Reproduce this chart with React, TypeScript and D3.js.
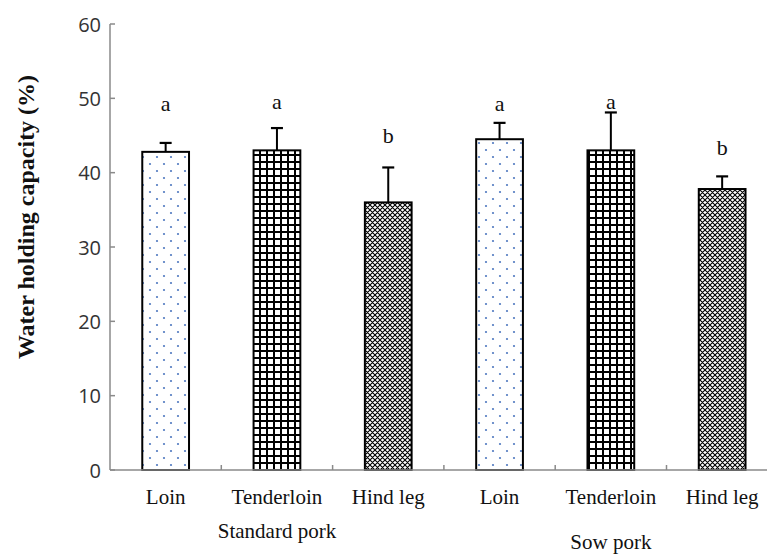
import * as d3 from "d3";

const categories = ["Loin", "Tenderloin", "Hind leg", "Loin", "Tenderloin", "Hind leg"];
const cuts = ["loin", "tender", "hind", "loin", "tender", "hind"];
const means = [42.8, 43.0, 36.0, 44.5, 43.0, 37.8];
const errors = [1.2, 3.0, 4.7, 2.2, 5.1, 1.7];
const letters = ["a", "a", "b", "a", "a", "b"];
const letterPos = [49.3, 49.6, 45.0, 49.3, 49.6, 43.4];
const groups = ["Standard pork", "Sow pork"];
const yTicks = [0, 10, 20, 30, 40, 50, 60];

const W = 767;
const H = 555;
const left = 110;
const top = 24;
const bottom = 470;

export default function App() {
  const x = d3
    .scaleBand<number>()
    .domain(d3.range(categories.length))
    .range([left, left + 111.3 * categories.length])
    .paddingInner(0.58)
    .paddingOuter(0.29);
  const step = x.step();
  const band = x.bandwidth();
  const y = d3.scaleLinear().domain([0, 60]).range([bottom, top]);
  const serif = "'Liberation Serif', 'Times New Roman', serif";
  const sans = "'Open Sans', 'Noto Sans', sans-serif";
  const fills: Record<string, string> = { loin: "url(#dots)", tender: "url(#grid)", hind: "url(#hatch)" };
  const boundary = (i: number) => left + step * i;

  return (
    <svg width={W} height={H} style={{ position: "absolute", left: 0, top: 0, background: "#fff" }}>
      <defs>
        <pattern id="dots" width={14} height={14} patternUnits="userSpaceOnUse">
          <rect width={14} height={14} fill="#fff" />
          <circle cx={3} cy={3} r={1.1} fill="#4f78c0" />
          <circle cx={10} cy={10} r={1.1} fill="#4f78c0" />
        </pattern>
        <pattern id="grid" width={7} height={7} patternUnits="userSpaceOnUse">
          <rect width={7} height={7} fill="#fff" />
          <line x1={1} y1={0} x2={1} y2={7} stroke="#000" strokeWidth={2} />
          <line x1={0} y1={1} x2={7} y2={1} stroke="#000" strokeWidth={2} />
        </pattern>
        <pattern id="hatch" width={5} height={5} patternUnits="userSpaceOnUse">
          <rect width={5} height={5} fill="#fff" />
          <path d="M0,0 L5,5 M5,0 L0,5 M-1,4 L1,6 M4,-1 L6,1 M4,6 L6,4 M-1,1 L1,-1" stroke="#000" strokeWidth={1.1} />
        </pattern>
      </defs>

      {/* y axis */}
      <line x1={left} y1={top} x2={left} y2={bottom} stroke="#8a8a8a" strokeWidth={1.5} />
      {yTicks.map((t) => (
        <g key={t}>
          <line x1={left} x2={left + 5} y1={y(t)} y2={y(t)} stroke="#8a8a8a" strokeWidth={1.5} />
          <text x={left - 9} y={y(t)} textAnchor="end" dominantBaseline="central" fontFamily={sans} fontSize={20} fill="#333">
            {t}
          </text>
        </g>
      ))}
      <text
        transform={`translate(26,217) rotate(-90)`}
        textAnchor="middle"
        dominantBaseline="central"
        fontFamily={serif}
        fontWeight="bold"
        fontSize={24}
        fill="#111"
      >
        Water holding capacity (%)
      </text>

      {/* bars */}
      {means.map((m, i) => {
        const cx = (x(i) as number) + band / 2;
        return (
          <g key={i}>
            <line x1={cx} x2={cx} y1={y(m)} y2={y(m + errors[i])} stroke="#000" strokeWidth={2} />
            <line x1={cx - 6} x2={cx + 6} y1={y(m + errors[i])} y2={y(m + errors[i])} stroke="#000" strokeWidth={2.2} />
            <rect x={x(i)} y={y(m)} width={band} height={bottom - y(m)} fill={fills[cuts[i]]} stroke="#000" strokeWidth={2} />
            <text x={cx} y={y(letterPos[i])} textAnchor="middle" dominantBaseline="central" fontFamily={serif} fontSize={22} fill="#111">
              {letters[i]}
            </text>
            <text x={cx} y={497} textAnchor="middle" dominantBaseline="central" fontFamily={serif} fontSize={21} fill="#111">
              {categories[i]}
            </text>
          </g>
        );
      })}

      {/* x axis */}
      <line x1={left} y1={bottom} x2={W} y2={bottom} stroke="#8a8a8a" strokeWidth={1.5} />
      {d3.range(1, categories.length).map((i) => (
        <line key={i} x1={boundary(i)} x2={boundary(i)} y1={bottom} y2={bottom - 5} stroke="#8a8a8a" strokeWidth={1.5} />
      ))}
      <text x={boundary(1.5)} y={531} textAnchor="middle" dominantBaseline="central" fontFamily={serif} fontSize={21} fill="#111">
        {groups[0]}
      </text>
      <text x={boundary(4.5)} y={542} textAnchor="middle" dominantBaseline="central" fontFamily={serif} fontSize={21} fill="#111">
        {groups[1]}
      </text>
    </svg>
  );
}
